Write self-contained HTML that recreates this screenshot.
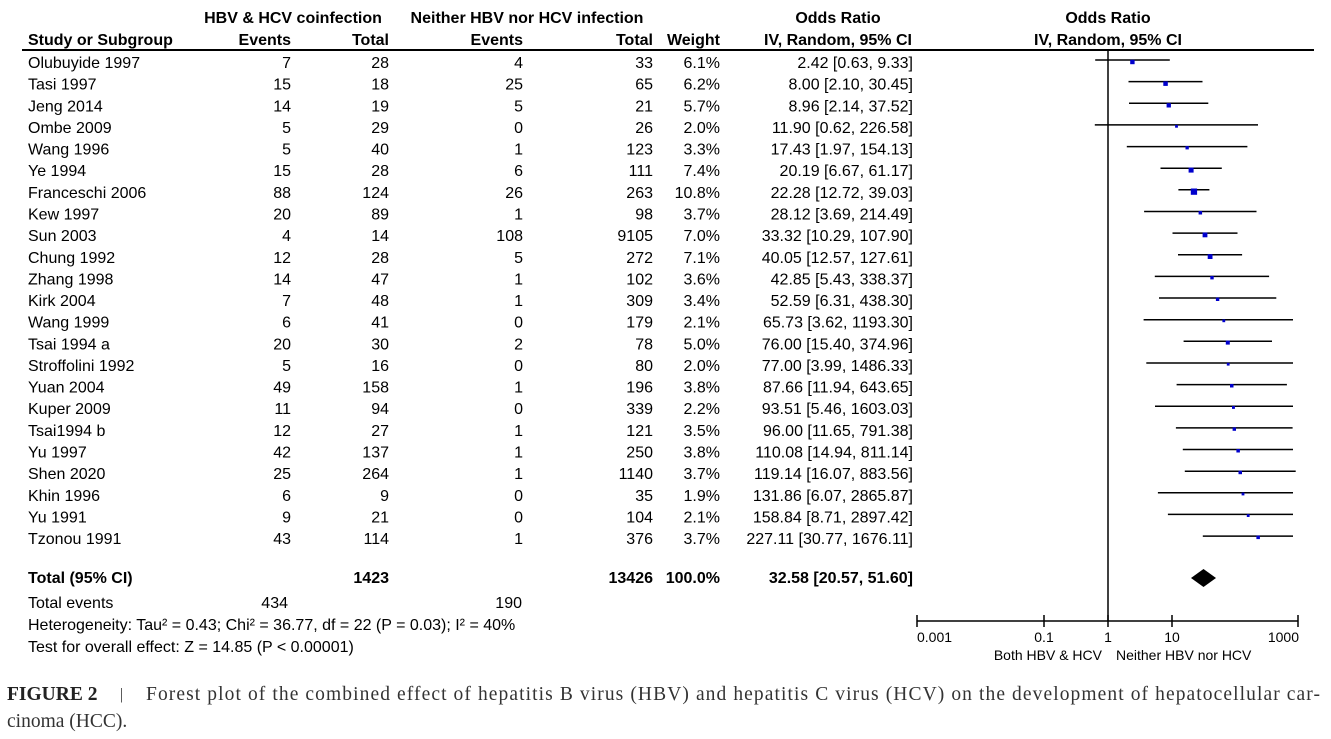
<!DOCTYPE html>
<html><head><meta charset="utf-8"><style>
html,body{margin:0;padding:0;background:#fff;}
svg{display:block}
.t{font-family:"Liberation Sans",Arial,sans-serif;font-size:16px;fill:#000}
.b{font-weight:bold}
.r{text-anchor:end}
.c{text-anchor:middle}
.cap{font-family:"Liberation Serif",serif;font-size:19.5px;fill:#333}
</style></head><body>
<svg width="1331" height="739" viewBox="0 0 1331 739" xmlns="http://www.w3.org/2000/svg">
<rect width="1331" height="739" fill="#fff"/>
<g class="t b">
<text x="293" y="23" class="c">HBV &amp; HCV coinfection</text>
<text x="527" y="23" class="c">Neither HBV nor HCV infection</text>
<text x="838" y="23" class="c">Odds Ratio</text>
<text x="1108" y="23" class="c">Odds Ratio</text>
<text x="28" y="45">Study or Subgroup</text>
<text x="291" y="45" class="r">Events</text>
<text x="389" y="45" class="r">Total</text>
<text x="523" y="45" class="r">Events</text>
<text x="653" y="45" class="r">Total</text>
<text x="720" y="45" class="r">Weight</text>
<text x="838" y="45" class="c">IV, Random, 95% CI</text>
<text x="1108" y="45" class="c">IV, Random, 95% CI</text>
</g>
<line x1="22" y1="50" x2="1314" y2="50" stroke="#000" stroke-width="2"/>
<line x1="1108" y1="50" x2="1108" y2="621" stroke="#000" stroke-width="1.5"/>

<g class="t">
<text x="28" y="68">Olubuyide 1997</text><text x="291" y="68" class="r">7</text><text x="389" y="68" class="r">28</text><text x="523" y="68" class="r">4</text><text x="653" y="68" class="r">33</text><text x="720" y="68" class="r">6.1%</text><text x="913" y="68" class="r">2.42 [0.63, 9.33]</text>
<text x="28" y="89.6">Tasi 1997</text><text x="291" y="89.6" class="r">15</text><text x="389" y="89.6" class="r">18</text><text x="523" y="89.6" class="r">25</text><text x="653" y="89.6" class="r">65</text><text x="720" y="89.6" class="r">6.2%</text><text x="913" y="89.6" class="r">8.00 [2.10, 30.45]</text>
<text x="28" y="111.3">Jeng 2014</text><text x="291" y="111.3" class="r">14</text><text x="389" y="111.3" class="r">19</text><text x="523" y="111.3" class="r">5</text><text x="653" y="111.3" class="r">21</text><text x="720" y="111.3" class="r">5.7%</text><text x="913" y="111.3" class="r">8.96 [2.14, 37.52]</text>
<text x="28" y="132.9">Ombe 2009</text><text x="291" y="132.9" class="r">5</text><text x="389" y="132.9" class="r">29</text><text x="523" y="132.9" class="r">0</text><text x="653" y="132.9" class="r">26</text><text x="720" y="132.9" class="r">2.0%</text><text x="913" y="132.9" class="r">11.90 [0.62, 226.58]</text>
<text x="28" y="154.6">Wang 1996</text><text x="291" y="154.6" class="r">5</text><text x="389" y="154.6" class="r">40</text><text x="523" y="154.6" class="r">1</text><text x="653" y="154.6" class="r">123</text><text x="720" y="154.6" class="r">3.3%</text><text x="913" y="154.6" class="r">17.43 [1.97, 154.13]</text>
<text x="28" y="176.2">Ye 1994</text><text x="291" y="176.2" class="r">15</text><text x="389" y="176.2" class="r">28</text><text x="523" y="176.2" class="r">6</text><text x="653" y="176.2" class="r">111</text><text x="720" y="176.2" class="r">7.4%</text><text x="913" y="176.2" class="r">20.19 [6.67, 61.17]</text>
<text x="28" y="197.8">Franceschi 2006</text><text x="291" y="197.8" class="r">88</text><text x="389" y="197.8" class="r">124</text><text x="523" y="197.8" class="r">26</text><text x="653" y="197.8" class="r">263</text><text x="720" y="197.8" class="r">10.8%</text><text x="913" y="197.8" class="r">22.28 [12.72, 39.03]</text>
<text x="28" y="219.5">Kew 1997</text><text x="291" y="219.5" class="r">20</text><text x="389" y="219.5" class="r">89</text><text x="523" y="219.5" class="r">1</text><text x="653" y="219.5" class="r">98</text><text x="720" y="219.5" class="r">3.7%</text><text x="913" y="219.5" class="r">28.12 [3.69, 214.49]</text>
<text x="28" y="241.1">Sun 2003</text><text x="291" y="241.1" class="r">4</text><text x="389" y="241.1" class="r">14</text><text x="523" y="241.1" class="r">108</text><text x="653" y="241.1" class="r">9105</text><text x="720" y="241.1" class="r">7.0%</text><text x="913" y="241.1" class="r">33.32 [10.29, 107.90]</text>
<text x="28" y="262.8">Chung 1992</text><text x="291" y="262.8" class="r">12</text><text x="389" y="262.8" class="r">28</text><text x="523" y="262.8" class="r">5</text><text x="653" y="262.8" class="r">272</text><text x="720" y="262.8" class="r">7.1%</text><text x="913" y="262.8" class="r">40.05 [12.57, 127.61]</text>
<text x="28" y="284.4">Zhang 1998</text><text x="291" y="284.4" class="r">14</text><text x="389" y="284.4" class="r">47</text><text x="523" y="284.4" class="r">1</text><text x="653" y="284.4" class="r">102</text><text x="720" y="284.4" class="r">3.6%</text><text x="913" y="284.4" class="r">42.85 [5.43, 338.37]</text>
<text x="28" y="306">Kirk 2004</text><text x="291" y="306" class="r">7</text><text x="389" y="306" class="r">48</text><text x="523" y="306" class="r">1</text><text x="653" y="306" class="r">309</text><text x="720" y="306" class="r">3.4%</text><text x="913" y="306" class="r">52.59 [6.31, 438.30]</text>
<text x="28" y="327.7">Wang 1999</text><text x="291" y="327.7" class="r">6</text><text x="389" y="327.7" class="r">41</text><text x="523" y="327.7" class="r">0</text><text x="653" y="327.7" class="r">179</text><text x="720" y="327.7" class="r">2.1%</text><text x="913" y="327.7" class="r">65.73 [3.62, 1193.30]</text>
<text x="28" y="349.3">Tsai 1994 a</text><text x="291" y="349.3" class="r">20</text><text x="389" y="349.3" class="r">30</text><text x="523" y="349.3" class="r">2</text><text x="653" y="349.3" class="r">78</text><text x="720" y="349.3" class="r">5.0%</text><text x="913" y="349.3" class="r">76.00 [15.40, 374.96]</text>
<text x="28" y="371">Stroffolini 1992</text><text x="291" y="371" class="r">5</text><text x="389" y="371" class="r">16</text><text x="523" y="371" class="r">0</text><text x="653" y="371" class="r">80</text><text x="720" y="371" class="r">2.0%</text><text x="913" y="371" class="r">77.00 [3.99, 1486.33]</text>
<text x="28" y="392.6">Yuan 2004</text><text x="291" y="392.6" class="r">49</text><text x="389" y="392.6" class="r">158</text><text x="523" y="392.6" class="r">1</text><text x="653" y="392.6" class="r">196</text><text x="720" y="392.6" class="r">3.8%</text><text x="913" y="392.6" class="r">87.66 [11.94, 643.65]</text>
<text x="28" y="414.2">Kuper 2009</text><text x="291" y="414.2" class="r">11</text><text x="389" y="414.2" class="r">94</text><text x="523" y="414.2" class="r">0</text><text x="653" y="414.2" class="r">339</text><text x="720" y="414.2" class="r">2.2%</text><text x="913" y="414.2" class="r">93.51 [5.46, 1603.03]</text>
<text x="28" y="435.9">Tsai1994 b</text><text x="291" y="435.9" class="r">12</text><text x="389" y="435.9" class="r">27</text><text x="523" y="435.9" class="r">1</text><text x="653" y="435.9" class="r">121</text><text x="720" y="435.9" class="r">3.5%</text><text x="913" y="435.9" class="r">96.00 [11.65, 791.38]</text>
<text x="28" y="457.5">Yu 1997</text><text x="291" y="457.5" class="r">42</text><text x="389" y="457.5" class="r">137</text><text x="523" y="457.5" class="r">1</text><text x="653" y="457.5" class="r">250</text><text x="720" y="457.5" class="r">3.8%</text><text x="913" y="457.5" class="r">110.08 [14.94, 811.14]</text>
<text x="28" y="479.2">Shen 2020</text><text x="291" y="479.2" class="r">25</text><text x="389" y="479.2" class="r">264</text><text x="523" y="479.2" class="r">1</text><text x="653" y="479.2" class="r">1140</text><text x="720" y="479.2" class="r">3.7%</text><text x="913" y="479.2" class="r">119.14 [16.07, 883.56]</text>
<text x="28" y="500.8">Khin 1996</text><text x="291" y="500.8" class="r">6</text><text x="389" y="500.8" class="r">9</text><text x="523" y="500.8" class="r">0</text><text x="653" y="500.8" class="r">35</text><text x="720" y="500.8" class="r">1.9%</text><text x="913" y="500.8" class="r">131.86 [6.07, 2865.87]</text>
<text x="28" y="522.4">Yu 1991</text><text x="291" y="522.4" class="r">9</text><text x="389" y="522.4" class="r">21</text><text x="523" y="522.4" class="r">0</text><text x="653" y="522.4" class="r">104</text><text x="720" y="522.4" class="r">2.1%</text><text x="913" y="522.4" class="r">158.84 [8.71, 2897.42]</text>
<text x="28" y="544.1">Tzonou 1991</text><text x="291" y="544.1" class="r">43</text><text x="389" y="544.1" class="r">114</text><text x="523" y="544.1" class="r">1</text><text x="653" y="544.1" class="r">376</text><text x="720" y="544.1" class="r">3.7%</text><text x="913" y="544.1" class="r">227.11 [30.77, 1676.11]</text>

<g class="b">
<text x="28" y="583">Total (95% CI)</text><text x="389" y="583" class="r">1423</text><text x="653" y="583" class="r">13426</text><text x="720" y="583" class="r">100.0%</text><text x="913" y="583" class="r">32.58 [20.57, 51.60]</text>
</g>
<text x="28" y="608">Total events</text><text x="288" y="608" class="r">434</text><text x="522" y="608" class="r">190</text>
<text x="28" y="630">Heterogeneity: Tau² = 0.43; Chi² = 36.77, df = 22 (P = 0.03); I² = 40%</text>
<text x="28" y="652">Test for overall effect: Z = 14.85 (P &lt; 0.00001)</text>
</g>

<g stroke="#000" stroke-width="1.5">
<line x1="1095.2" y1="60" x2="1169.8" y2="60"/>
<line x1="1128.5" y1="81.6" x2="1202.5" y2="81.6"/>
<line x1="1129" y1="103.3" x2="1208.3" y2="103.3"/>
<line x1="1094.8" y1="124.9" x2="1258" y2="124.9"/>
<line x1="1126.8" y1="146.6" x2="1247.4" y2="146.6"/>
<line x1="1160.5" y1="168.2" x2="1221.8" y2="168.2"/>
<line x1="1178.4" y1="189.8" x2="1209.4" y2="189.8"/>
<line x1="1144.1" y1="211.5" x2="1256.5" y2="211.5"/>
<line x1="1172.5" y1="233.1" x2="1237.5" y2="233.1"/>
<line x1="1178" y1="254.8" x2="1242.1" y2="254.8"/>
<line x1="1154.8" y1="276.4" x2="1269.1" y2="276.4"/>
<line x1="1159" y1="298" x2="1276.3" y2="298"/>
<line x1="1143.6" y1="319.7" x2="1293" y2="319.7"/>
<line x1="1183.6" y1="341.3" x2="1272" y2="341.3"/>
<line x1="1146.3" y1="363" x2="1293" y2="363"/>
<line x1="1176.6" y1="384.6" x2="1286.9" y2="384.6"/>
<line x1="1155" y1="406.2" x2="1293" y2="406.2"/>
<line x1="1175.9" y1="427.9" x2="1292.6" y2="427.9"/>
<line x1="1182.8" y1="449.5" x2="1293" y2="449.5"/>
<line x1="1184.8" y1="471.2" x2="1295.7" y2="471.2"/>
<line x1="1157.9" y1="492.8" x2="1293" y2="492.8"/>
<line x1="1167.9" y1="514.4" x2="1293" y2="514.4"/>
<line x1="1202.8" y1="536.1" x2="1293" y2="536.1"/>
</g>
<g fill="#0000cc">
<rect x="1130.2" y="59.8" width="4.4" height="4.4"/>
<rect x="1163.3" y="81.4" width="4.5" height="4.5"/>
<rect x="1166.6" y="103.2" width="4.3" height="4.3"/>
<rect x="1175.1" y="124.9" width="2.8" height="2.8"/>
<rect x="1185.5" y="146.1" width="3.3" height="3.3"/>
<rect x="1188.6" y="167.6" width="5" height="5"/>
<rect x="1190.8" y="188.5" width="6.3" height="6.3"/>
<rect x="1198.6" y="211" width="3.5" height="3.5"/>
<rect x="1202.6" y="232.5" width="4.8" height="4.8"/>
<rect x="1207.7" y="254.2" width="4.8" height="4.8"/>
<rect x="1210.3" y="276" width="3.4" height="3.4"/>
<rect x="1215.9" y="297.6" width="3.4" height="3.4"/>
<rect x="1222.4" y="319.4" width="2.8" height="2.8"/>
<rect x="1225.8" y="340.6" width="4" height="4"/>
<rect x="1226.8" y="362.8" width="2.8" height="2.8"/>
<rect x="1230" y="384" width="3.5" height="3.5"/>
<rect x="1232" y="406" width="2.9" height="2.9"/>
<rect x="1232.6" y="427.4" width="3.4" height="3.4"/>
<rect x="1236.4" y="449" width="3.5" height="3.5"/>
<rect x="1238.5" y="470.7" width="3.5" height="3.5"/>
<rect x="1241.6" y="492.6" width="2.8" height="2.8"/>
<rect x="1246.8" y="514.2" width="2.8" height="2.8"/>
<rect x="1256.4" y="535.6" width="3.5" height="3.5"/>
</g>
<polygon points="1191,578 1203.5,569 1216,578 1203.5,587" fill="#000"/>

<g stroke="#000" stroke-width="1.5">
<line x1="917" y1="621" x2="1298" y2="621"/>
<line x1="917" y1="615" x2="917" y2="627"/>
<line x1="1044" y1="615" x2="1044" y2="627"/>
<line x1="1108" y1="615" x2="1108" y2="627"/>
<line x1="1172" y1="615" x2="1172" y2="627"/>
<line x1="1298" y1="615" x2="1298" y2="627"/>
</g>
<g class="t" style="font-size:14px">
<text x="917" y="642">0.001</text>
<text x="1044" y="642" class="c">0.1</text>
<text x="1108" y="642" class="c">1</text>
<text x="1172" y="642" class="c">10</text>
<text x="1299" y="642" class="r">1000</text>
<text x="1102" y="660" class="r">Both HBV &amp; HCV</text>
<text x="1116" y="660">Neither HBV nor HCV</text>
</g>

<text x="7" y="700" class="cap"><tspan font-weight="bold" fill="#222">FIGURE 2</tspan></text>
<text x="120" y="699" class="cap" style="font-size:16px">|</text>
<text x="146" y="700" class="cap" textLength="1174" lengthAdjust="spacing">Forest plot of the combined effect of hepatitis B virus (HBV) and hepatitis C virus (HCV) on the development of hepatocellular car-</text>
<text x="7" y="727" class="cap">cinoma (HCC).</text>
</svg>
</body></html>
